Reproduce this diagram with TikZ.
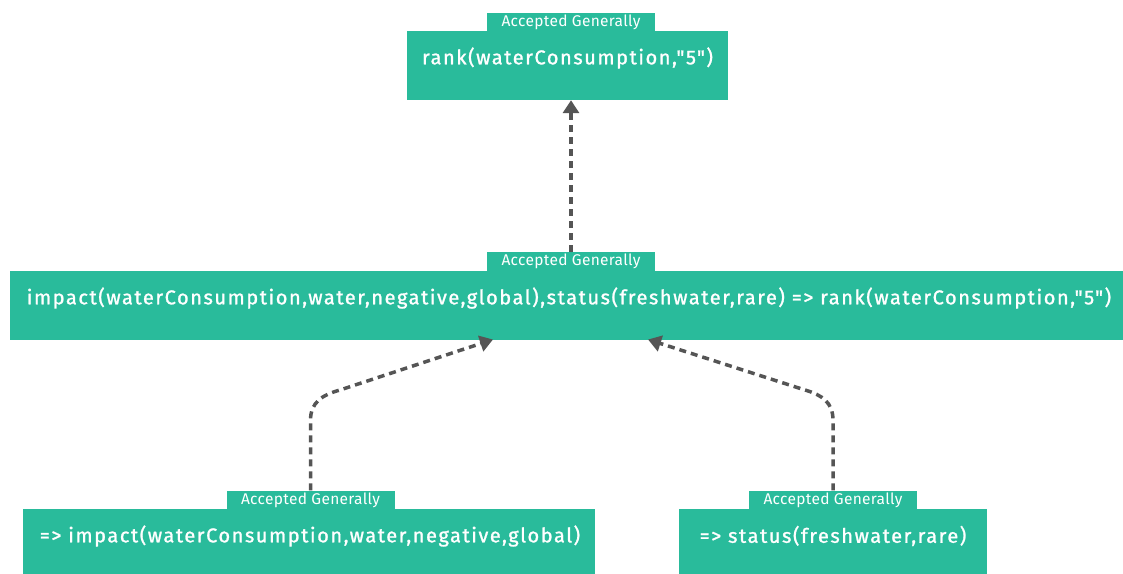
\documentclass[tikz,border=0pt]{standalone}
\usepackage{fontspec}
\setmainfont{Fira Sans}
\newfontfamily\boxfont[LetterSpace=7.8,FakeBold=1.2]{Fira Sans}
\newfontfamily\tabfont[LetterSpace=2]{Fira Sans}
\usetikzlibrary{arrows.meta}
\definecolor{teal1}{RGB}{41,187,155}
\definecolor{arr}{RGB}{85,85,85}
\begin{document}
\begin{tikzpicture}[x=1pt,y=-1pt,
  boxst/.style={fill=teal1,draw=none,rectangle,inner sep=0pt},
  tabst/.style={fill=teal1,draw=none,rectangle,inner sep=0pt,minimum width=168pt,minimum height=19pt,text=white,font=\tabfont\fontsize{15.5}{15.5}\selectfont},
  txtst/.style={text=white,inner sep=0pt,font=\boxfont\fontsize{20}{20}\selectfont},
  link/.style={draw=arr,line width=3.5pt,dash pattern=on 7pt off 5pt,-{Triangle[width=16pt,length=13pt]}}]
\useasboundingbox (0,0) rectangle (1123,573);
\clip (0,0) rectangle (1123,573);
% boxes
\node[boxst,minimum width=321pt,minimum height=69pt] (top) at (567.5,65.5) {};
\node[tabst] (toptab) at (571,22.5) {Accepted Generally};
\node[txtst] (toptxt) at (567.5,58) {rank(waterConsumption,"5")};

\node[boxst,minimum width=1113pt,minimum height=69pt] (mid) at (566,305) {};
\node[tabst] (midtab) at (571,261.5) {Accepted Generally};
\node[txtst] (midtxt) at (569,298) {impact(waterConsumption,water,negative,global),status(freshwater,rare) => rank(waterConsumption,"5")};

\node[boxst,minimum width=572pt,minimum height=72pt] (bl) at (309,545) {};
\node[tabst] (bltab) at (310.5,500) {Accepted Generally};
\node[txtst] (bltxt) at (310,536) {=> impact(waterConsumption,water,negative,global)};

\node[boxst,minimum width=308pt,minimum height=72pt] (br) at (833,545) {};
\node[tabst] (brtab) at (833,500) {Accepted Generally};
\node[txtst] (brtxt) at (833,536) {=> status(freshwater,rare)};

% connectors
\coordinate (ml) at (493,339.5);
\coordinate (mr) at (648,339.5);
\draw[link] (midtab.north) -- (top.south -| midtab.north);
\draw[link] (bltab.north) -- ++(0,-70) .. controls ++(0,-18) and (322,395) .. (340,390) -- (ml);
\draw[link] (brtab.north) -- ++(0,-70) .. controls ++(0,-18) and (822,395) .. (805,390) -- (mr);
\end{tikzpicture}
\end{document}
